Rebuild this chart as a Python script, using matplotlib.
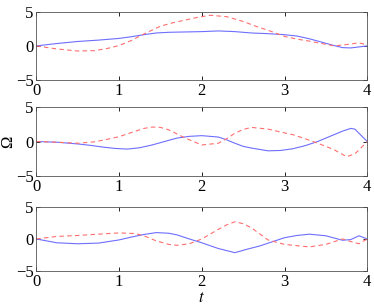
import matplotlib
matplotlib.use('Agg')
import matplotlib.pyplot as plt
import numpy as np

plt.rcParams['font.family'] = ['Liberation Serif', 'DejaVu Serif']
plt.rcParams['mathtext.fontset'] = 'stix'

# panel 1
t1_blue = [0, 0.25, 0.5, 0.75, 1.0, 1.15, 1.3, 1.45, 1.6, 1.8, 2.0, 2.2, 2.4, 2.6, 2.8, 3.0, 3.15, 3.3, 3.45, 3.6, 3.7, 3.8, 3.9, 4.0]
y1_blue = [0, 0.35, 0.65, 0.85, 1.1, 1.35, 1.65, 1.9, 2.0, 2.05, 2.1, 2.2, 2.1, 1.9, 1.8, 1.65, 1.45, 1.05, 0.55, 0.05, -0.25, -0.3, -0.15, 0]
t1_red = [0, 0.25, 0.5, 0.7, 0.85, 1.0, 1.15, 1.3, 1.5, 1.65, 1.8, 1.95, 2.1, 2.3, 2.5, 2.65, 2.8, 3.0, 3.15, 3.3, 3.45, 3.6, 3.75, 3.9, 4.0]
y1_red = [0, -0.45, -0.75, -0.7, -0.4, 0.05, 0.8, 1.75, 2.9, 3.4, 3.8, 4.2, 4.5, 4.3, 3.6, 2.9, 2.3, 1.4, 1.0, 0.7, 0.35, 0.0, 0.2, 0.45, 0.15]

# panel 2
t2_blue = [0, 0.25, 0.5, 0.65, 0.8, 0.95, 1.1, 1.25, 1.4, 1.55, 1.7, 1.85, 2.0, 2.2, 2.3, 2.4, 2.5, 2.6, 2.8, 2.95, 3.1, 3.25, 3.4, 3.5, 3.6, 3.7, 3.8, 3.85, 3.9, 4.0]
y2_blue = [0, -0.1, -0.35, -0.55, -0.8, -1.0, -1.1, -0.9, -0.5, 0.0, 0.5, 0.75, 0.85, 0.65, 0.25, -0.25, -0.7, -0.95, -1.35, -1.3, -1.05, -0.6, 0.0, 0.5, 1.0, 1.5, 1.9, 1.8, 1.2, 0]
t2_red = [0, 0.25, 0.5, 0.7, 0.85, 1.0, 1.2, 1.3, 1.4, 1.5, 1.6, 1.7, 1.8, 2.0, 2.2, 2.3, 2.4, 2.5, 2.6, 2.8, 3.0, 3.1, 3.25, 3.4, 3.5, 3.6, 3.75, 3.85, 3.9, 4.0]
y2_red = [0, -0.1, -0.25, -0.05, 0.3, 0.7, 1.5, 1.9, 2.1, 2.05, 1.7, 1.1, 0.5, -0.5, -0.25, 0.4, 1.2, 1.75, 2.05, 1.8, 1.25, 1.0, 0.4, -0.25, -0.7, -1.2, -2.2, -1.8, -1.2, 0]

# panel 3
t3_blue = [0, 0.25, 0.5, 0.75, 1.0, 1.15, 1.3, 1.45, 1.6, 1.7, 1.85, 2.0, 2.2, 2.4, 2.55, 2.7, 2.85, 3.0, 3.15, 3.3, 3.5, 3.7, 3.8, 3.9, 4.0]
y3_blue = [0, -0.6, -0.75, -0.65, -0.15, 0.3, 0.7, 1.0, 0.9, 0.65, 0.0, -0.6, -1.5, -2.15, -1.6, -1.1, -0.45, 0.2, 0.55, 0.75, 0.5, -0.2, -0.1, 0.5, 0]
t3_red = [0, 0.25, 0.5, 1.0, 1.2, 1.3, 1.45, 1.6, 1.7, 1.85, 2.0, 2.1, 2.2, 2.3, 2.4, 2.5, 2.6, 2.7, 2.8, 3.0, 3.3, 3.5, 3.7, 3.8, 3.9, 4.0]
y3_red = [0, 0.4, 0.55, 0.95, 0.85, 0.5, -0.3, -0.85, -1.0, -0.75, 0, 0.75, 1.5, 2.2, 2.7, 2.4, 1.75, 0.8, -0.15, -0.85, -1.25, -0.85, 0, -0.4, -0.75, 0]

blue = '#6e6eff'
red = '#ff6e6e'

fig = plt.figure(figsize=(3.74, 3.05), dpi=100)
boxes = [[0.097, 0.738, 0.885, 0.223],
         [0.097, 0.423, 0.885, 0.226],
         [0.097, 0.112, 0.885, 0.209]]
data = [(t1_blue, y1_blue, t1_red, y1_red),
        (t2_blue, y2_blue, t2_red, y2_red),
        (t3_blue, y3_blue, t3_red, y3_red)]

axes = []
for box, (tb, yb, tr, yr) in zip(boxes, data):
    ax = fig.add_axes(box)
    ax.plot(tb, yb, color=blue, lw=0.8)
    ax.plot(tr, yr, color=red, lw=0.8, dashes=(4, 3))
    ax.set_xlim(0, 4)
    ax.set_ylim(-5, 5)
    ax.set_xticks([0, 1, 2, 3, 4])
    ax.set_yticks([-5, 0, 5])
    ax.set_yticklabels(['\u22125', '0', '5'])
    ax.tick_params(direction='in', top=True, right=True, labelsize=12, length=3, width=0.6, pad=2)
    for s in ax.spines.values():
        s.set_linewidth(0.6)
        s.set_color('#555555')
    axes.append(ax)

axes[1].set_ylabel('\u03a9', fontsize=12)
axes[1].yaxis.set_label_coords(-0.06, 0.5)
axes[2].set_xlabel('$t$', fontsize=12, labelpad=0)

fig.savefig('out.png', dpi=100)
